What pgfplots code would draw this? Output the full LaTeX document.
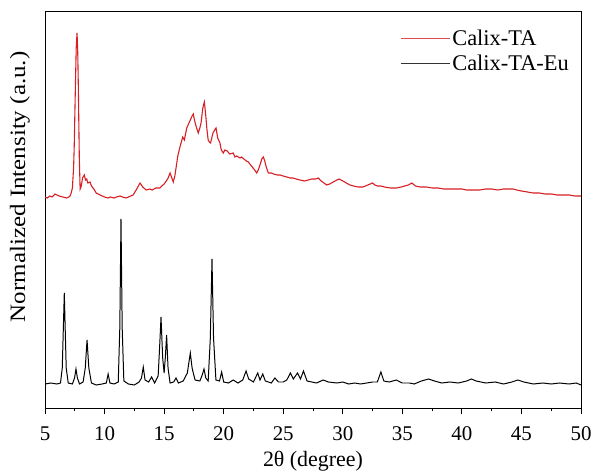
\documentclass[border=0pt]{standalone}
\usepackage{pgfplots}
\pgfplotsset{compat=1.18}
\usepackage{fontspec}
\setmainfont{Liberation Serif}
\definecolor{xrdred}{RGB}{215,30,35}
\begin{document}
\begin{tikzpicture}
\begin{axis}[
  scale only axis,
  width=536bp, height=397bp,
  xmin=5, xmax=50, ymin=0, ymax=397,
  xtick={5,10,...,50},
  minor x tick num=1,
  ytick=\empty,
  xtick pos=bottom,
  tick align=outside,
  major tick length=6bp,
  minor tick length=3bp,
  axis line style={line width=0.9pt},
  every tick/.style={line width=0.9pt, black},
  /pgf/number format/assume math mode=true,
  ticklabel style={font=\fontsize{21}{25}\selectfont},
  xticklabel style={yshift=-9bp},
  xlabel={2θ (degree)},
  xlabel style={font=\fontsize{22}{26}\selectfont, yshift=-4bp},
  ylabel={\scalebox{1.14}[1]{Normalized Intensity (a.u.)}},
  ylabel style={font=\fontsize{22}{26}\selectfont, at={(axis description cs:-0.047,0.557)}, rotate=0, anchor=center},
  legend style={at={(axis description cs:1,1)}, anchor=north east, draw=none, fill=none,
    font=\fontsize{22.5}{26}\selectfont, xshift=-10bp, yshift=-17bp, row sep=4bp, inner sep=0pt},
  legend cell align=left,
  legend image code/.code={\draw[#1, line width=0.6pt, opacity=0.8] (0bp,0bp) -- (49bp,0bp);},
]
\addplot[xrdred, line width=1.1pt] coordinates {
(5.0,211) (5.2,210) (5.4,212) (5.6,211) (5.84,214) (6.0,213) (6.2,212) (6.5,211) (6.8,210) (7.0,211) (7.1,212) (7.2,215) (7.3,220)
(7.4,240) (7.45,260) (7.55,320) (7.62,360) (7.69,375) (7.75,355) (7.8,320) (7.88,250) (7.95,219)
(8.05,222) (8.15,230) (8.3,233) (8.4,228) (8.5,229) (8.6,225) (8.78,226) (8.9,222) (9.1,219) (9.3,215) (9.62,213)
(10.0,211) (10.3,210) (10.5,211) (10.8,210) (11.0,211) (11.3,212) (11.5,211) (11.8,210) (12.0,211) (12.2,212) (12.4,213)
(12.7,219) (12.98,225) (13.2,221) (13.5,218) (13.8,219) (14.0,218) (14.3,220) (14.65,220) (14.8,222) (15.0,224) (15.3,229)
(15.5,235) (15.65,230) (15.77,226) (15.9,232) (16.0,240) (16.15,252) (16.33,261) (16.45,266) (16.56,271) (16.7,268) (16.9,280)
(17.05,284) (17.2,288) (17.35,292) (17.45,294) (17.55,288) (17.65,283) (17.87,275) (18.0,280) (18.1,285) (18.25,300)
(18.38,306) (18.5,292) (18.6,278) (18.7,268) (18.8,266) (18.9,265) (19.0,270) (19.1,275) (19.25,278) (19.36,280) (19.5,270)
(19.69,265) (19.8,258) (19.97,255) (20.1,258) (20.3,257) (20.5,254) (20.8,255) (20.95,251) (21.1,252) (21.37,250) (21.5,251)
(21.7,249) (21.9,247) (22.07,246) (22.2,244) (22.4,241) (22.6,238) (22.77,235) (22.9,238) (23.05,243) (23.2,249) (23.33,251)
(23.45,247) (23.55,242) (23.75,235) (24.0,235) (24.2,234) (24.5,233) (24.73,233) (25.0,232) (25.3,231) (25.6,230) (25.8,230)
(26.1,229) (26.4,228) (26.8,227) (27.1,228) (27.4,229) (27.7,229) (27.95,230) (28.1,228) (28.3,226) (28.65,223) (28.9,224)
(29.2,226) (29.5,228) (29.7,229) (30.0,227) (30.3,225) (30.6,223) (30.9,222) (31.3,221) (31.7,221) (32.1,223) (32.5,225)
(32.7,223) (32.9,222) (33.2,222) (33.5,221) (34.0,220) (34.5,220) (34.9,221) (35.2,222) (35.5,223) (35.8,225) (36.1,222)
(36.5,221) (37.0,221) (37.5,220) (38.0,220) (38.5,219) (39.0,219) (39.5,219) (40.0,219) (40.4,218) (41.0,218) (41.5,218)
(42.0,219) (42.5,219) (43.0,218) (43.5,219) (44.0,219) (44.3,219) (44.6,218) (45.0,217) (45.5,216) (46.0,215) (46.5,215)
(47.0,214) (47.5,214) (48.0,213) (48.5,213) (49.0,213) (49.5,212) (49.9,212) (50.0,212)
};
\addlegendentry{Calix-TA}
\addplot[black, line width=1pt] coordinates {
(5.0,24) (5.5,25) (6.0,24) (6.3,25) (6.45,40) (6.62,115) (6.78,40) (6.95,25) (7.3,24) (7.48,30) (7.6,39) (7.72,30) (7.9,24)
(8.2,26) (8.38,40) (8.53,68) (8.68,40) (8.9,25) (9.3,23) (9.8,24) (10.15,25) (10.3,34) (10.45,25) (10.8,24) (11.15,26)
(11.28,80) (11.38,189) (11.48,80) (11.62,27) (12.0,24) (12.5,23) (12.9,26) (13.1,30) (13.25,41) (13.4,28) (13.7,26)
(13.95,31) (14.2,25) (14.5,32) (14.62,60) (14.74,91) (14.88,50) (15.0,35) (15.1,50) (15.21,73) (15.33,40) (15.5,25)
(15.8,26) (16.0,30) (16.2,25) (16.6,27) (16.95,35) (17.2,55) (17.35,40) (17.45,35) (17.6,28) (18.0,27) (18.2,33)
(18.35,39) (18.5,30) (18.7,27) (18.88,70) (19.02,149) (19.15,70) (19.35,28) (19.65,27) (19.83,36) (20.0,26) (20.4,25)
(20.8,28) (21.2,25) (21.6,28) (21.88,37) (22.1,29) (22.5,26) (22.86,35) (23.05,28) (23.28,34) (23.5,27) (24.0,25)
(24.3,30) (24.6,26) (25.0,26) (25.3,28) (25.6,35) (25.85,29) (26.2,35) (26.45,29) (26.7,37) (27.0,27) (27.4,26)
(27.8,25) (28.35,28) (28.8,26) (29.5,25) (30.0,26) (30.5,24) (31.0,25) (31.5,24) (32.0,25) (32.5,26) (32.9,26)
(33.2,36) (33.45,27) (33.9,26) (34.5,28) (35.0,25) (35.6,25) (36.0,24) (36.6,27) (37.2,29) (37.7,27) (38.3,25)
(39.0,26) (39.7,25) (40.4,27) (40.8,29) (41.2,27) (42.0,25) (42.8,26) (43.5,24) (44.2,26) (44.7,28) (45.2,26)
(46.0,24) (46.8,25) (47.5,24) (48.2,25) (49.0,24) (49.6,25) (50.0,23)
};
\addlegendentry{Calix-TA-Eu}
\end{axis}
\pgfresetboundingbox
\path (current axis.south west) ++(-45bp,-66bp) coordinate (bbA);
\path (current axis.north east) ++(11bp,11bp) coordinate (bbB);
\useasboundingbox (bbA) rectangle (bbB);
\end{tikzpicture}
\end{document}
